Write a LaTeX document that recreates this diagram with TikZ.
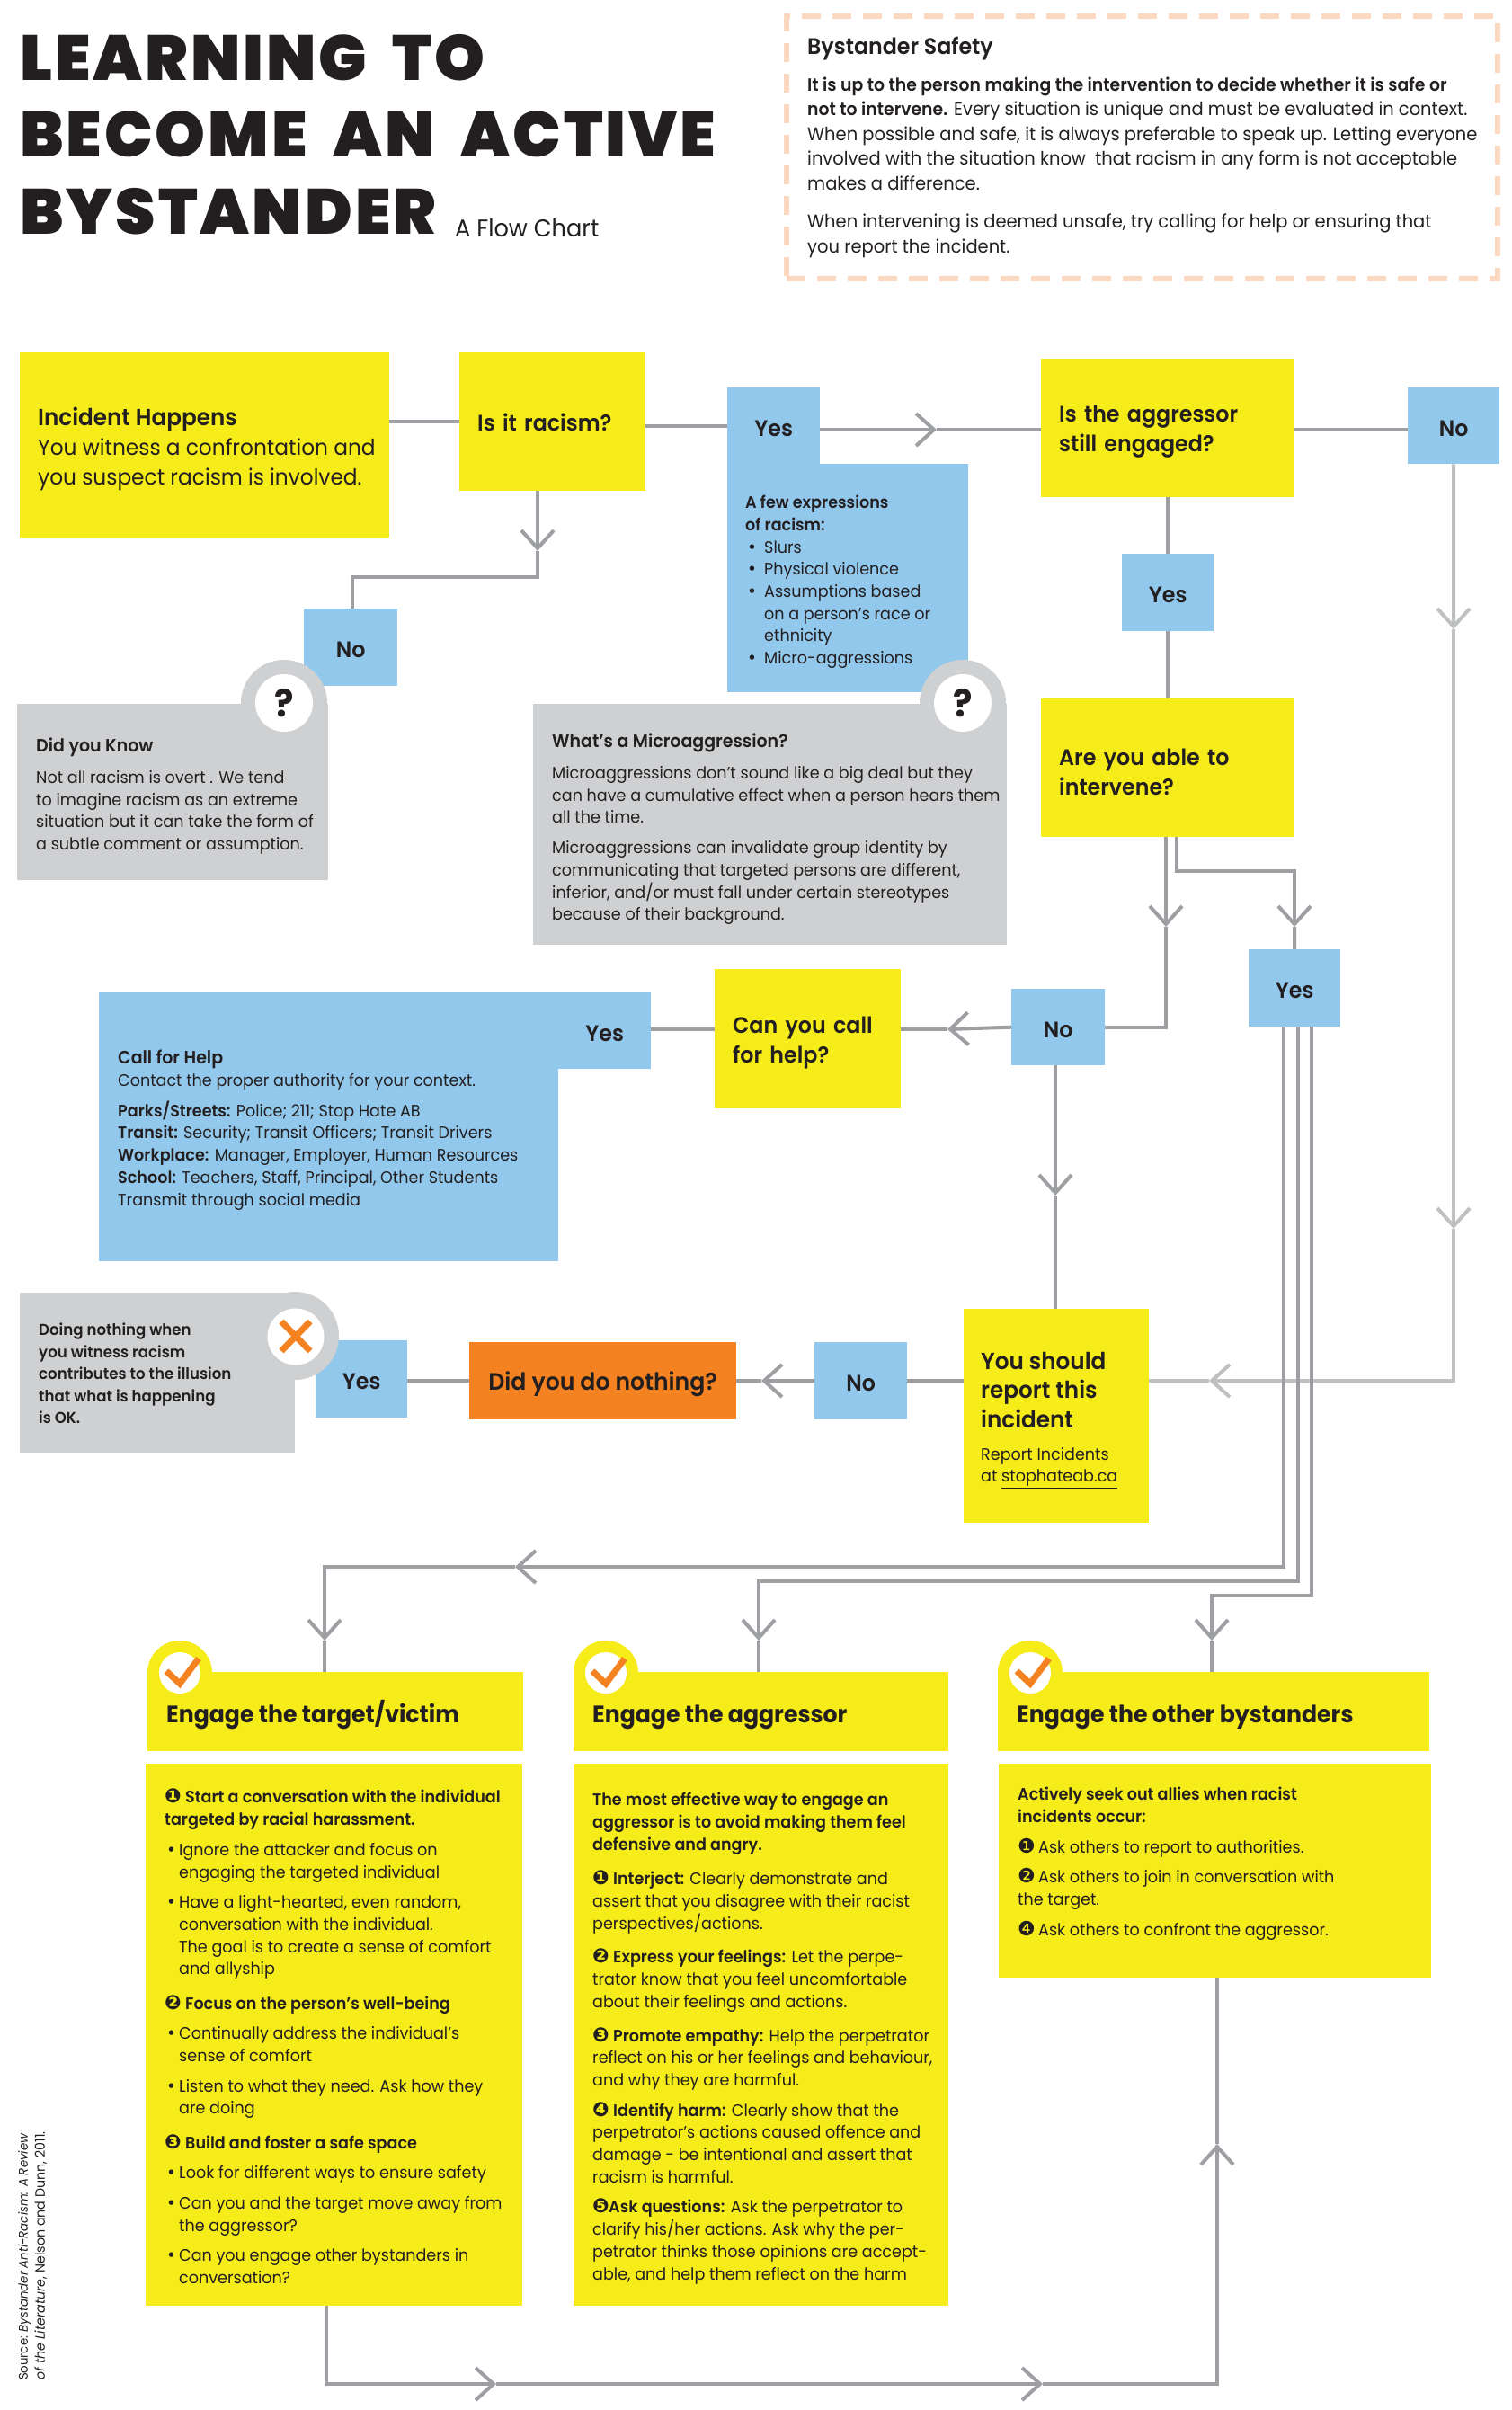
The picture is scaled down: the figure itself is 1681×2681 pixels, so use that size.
\documentclass[tikz,border=0pt]{standalone}
\usepackage{fontspec}
\setmainfont{Poppins}[BoldFont={Poppins SemiBold}, FakeStretch=0.95]
\newfontfamily\titlefont{Poppins Black}[LetterSpace=4.3, WordSpace=1.9]
\newfontfamily\headfont{Poppins Bold}[FakeStretch=0.95]
\newfontfamily\numfont{DejaVu Sans}
\usetikzlibrary{arrows.meta}
\definecolor{flowyellow}{RGB}{246, 236, 26}
\definecolor{flowblue}{RGB}{146, 200, 236}
\definecolor{flowgrey}{RGB}{207, 208, 210}
\definecolor{floworange}{RGB}{245, 130, 32}
\definecolor{flowline}{RGB}{157, 159, 162}
\definecolor{flowlight}{RGB}{190, 192, 194}
\definecolor{flowdash}{RGB}{251, 216, 191}
\definecolor{flowink}{RGB}{35, 31, 32}
\newcommand{\smalltext}{\fontsize{18.5}{24.7}\selectfont}
\newcommand{\asktext}{\fontsize{25}{33}\bfseries\selectfont}
\newcommand{\cnum}[2][23pt]{\makebox[#1][l]{\numfont\fontsize{22}{24.7}\selectfont #2}}
\newcommand{\flowdot}[1][14pt]{\hspace*{2pt}\makebox[#1][l]{\numfont •}}
\newcommand{\safebold}[1]{{\fontsize{19.8}{27.5}\selectfont\textbf{#1}}}
\newcommand{\boxhead}[1]{{\fontsize{20}{24.7}\selectfont\textbf{#1}}}
\tikzset{
    yellowbox/.style={rectangle, fill=flowyellow, text=flowink, anchor=north west, inner sep=0pt},
    bluebox/.style={rectangle, fill=flowblue, text=flowink, anchor=north west, inner sep=0pt},
    greybox/.style={rectangle, fill=flowgrey, text=flowink, anchor=north west, inner sep=0pt},
    askbox/.style={yellowbox, font=\asktext, align=left, execute at begin node={\rule{0pt}{27pt}}},
    answerbox/.style={bluebox, font=\asktext, align=center, execute at begin node={\rule{0pt}{23pt}}},
    textblock/.style={anchor=north west, inner sep=0pt, align=left, text=flowink, font=\smalltext},
    ring/.style={circle, fill=#1, inner sep=0pt, text=flowink},
    wire/.style={draw=flowline, line width=4pt},
    lightwire/.style={draw=flowlight, line width=4pt},
    barb/.style={-{Straight Barb[length=20pt,width=36pt,line width=4pt]}},
    engagetick/.pic={\draw[floworange, line width=7pt] (-15,-2) -- (0,12) -- (21,-16);},
    engagetitle/.style={anchor=base west, inner sep=0pt, text=flowink, font=\headfont\fontsize{26.5}{30}\selectfont},
}
\begin{document}
\begin{tikzpicture}[x=1pt,y=-1pt]
    \useasboundingbox (0,0) rectangle (1681,2681);
    \fill[white] (0,0) rectangle (1681,2681);

    % title
    \node[anchor=north west, inner sep=0pt, align=left, text=flowink, font=\titlefont\fontsize{71}{85.5}\selectfont] (title) at (22,38) {LEARNING TO\\BECOME AN ACTIVE\\BYSTANDER};
    \node[anchor=base west, inner sep=0pt, text=flowink, font=\fontsize{27}{30}\selectfont] (subtitle) at (506,264) {A Flow Chart};

    % safety note
    \node[anchor=north west, inner sep=0pt, minimum width=791pt, minimum height=292pt, draw=flowdash, line width=6pt, dash pattern=on 21pt off 13pt] (safety) at (872,15) {};
    \node[textblock, font=\fontsize{20.5}{27.5}\selectfont] (safetytext) at (898,41) {\fontsize{25}{27.5}\selectfont\textbf{Bystander Safety}\\[13pt]
    \safebold{It is up to the person making the intervention to decide whether it is safe or}\\
    \safebold{not to intervene.} Every situation is unique and must be evaluated in context.\\
    When possible and safe, it is always preferable to speak up. Letting everyone\\
    involved with the situation know\ \ that racism in any form is not acceptable\\
    makes a difference.\\[15pt]
    When intervening is deemed unsafe, try calling for help or ensuring that\\
    you report the incident.};

    % first row
    \node[yellowbox, minimum width=411pt, minimum height=206pt] (incident) at (22,392) {};
    \node[textblock, font=\fontsize{24.5}{33}\selectfont] (incidenttext) at (42,453) {\fontsize{26}{33}\selectfont\textbf{Incident Happens}\\You witness a confrontation and\\you suspect racism is involved.};
    \node[askbox, minimum width=207pt, minimum height=154pt, text width=167pt, text depth=7pt] (racism) at (511,392) {Is it racism?};
    \node[answerbox, minimum width=103pt, minimum height=85pt] (yesracism) at (809,431) {Yes};
    \node[bluebox, minimum width=268pt, minimum height=254pt] (expressions) at (809,516) {};
    \node[textblock] (expressionstext) at (829,551) {\textbf{A few expressions}\\\textbf{of racism:}\\
    \flowdot[19pt]Slurs\\\flowdot[19pt]Physical violence\\
    \flowdot[19pt]Assumptions based\\\hspace*{21pt}on a person’s race or\\\hspace*{21pt}ethnicity\\
    \flowdot[19pt]Micro-aggressions};
    \node[askbox, minimum width=282pt, minimum height=154pt, text width=242pt] (engaged) at (1158,399) {Is the aggressor\\still engaged?};
    \node[answerbox, minimum width=102pt, minimum height=85pt] (noengaged) at (1566,431) {No};
    \node[answerbox, minimum width=102pt, minimum height=86pt] (yesengaged) at (1248,616) {Yes};
    \node[askbox, minimum width=282pt, minimum height=154pt, text width=242pt] (able) at (1158,777) {Are you able to\\intervene?};

    % did you know
    \node[answerbox, minimum width=104pt, minimum height=86pt] (noracism) at (338,677) {No};
    \node[greybox, minimum width=346pt, minimum height=196pt] (know) at (19,783) {};
    \node[ring=flowgrey, minimum size=96pt] (knowring) at (316,782) {};
    \node[ring=white, minimum size=64pt, font=\headfont\fontsize{42}{44}\selectfont] (knowmark) at (knowring) {?};
    \node[textblock] (knowtext) at (40,821) {\boxhead{Did you Know}\\[10pt]Not all racism is overt . We tend\\to imagine racism as an extreme\\situation but it can take the form of\\a subtle comment or assumption.};

    % microaggression
    \node[greybox, minimum width=527pt, minimum height=268pt] (micro) at (593,783) {};
    \node[ring=flowgrey, minimum size=96pt] (microring) at (1071,782) {};
    \node[ring=white, minimum size=64pt, font=\headfont\fontsize{42}{44}\selectfont] (micromark) at (microring) {?};
    \node[textblock] (microtext) at (614,816) {\boxhead{What’s a Microaggression?}\\[10pt]Microaggressions don’t sound like a big deal but they\\can have a cumulative effect when a person hears them\\all the time.\\[9pt]Microaggressions can invalidate group identity by\\communicating that targeted persons are different,\\inferior, and/or must fall under certain stereotypes\\because of their background.};

    % call for help
    \node[bluebox, minimum width=511pt, minimum height=299pt] (call) at (110,1104) {};
    \node[answerbox, minimum width=103pt, minimum height=85pt] (yescall) at (621,1104) {Yes};
    \node[textblock] (calltext) at (131,1168) {\boxhead{Call for Help}\\Contact the proper authority for your context.\\[9pt]\textbf{Parks/Streets:} Police; 211; Stop Hate AB\\\textbf{Transit:} Security; Transit Officers; Transit Drivers\\\textbf{Workplace:} Manager, Employer, Human Resources\\\textbf{School:} Teachers, Staff, Principal, Other Students\\Transmit through social media};
    \node[askbox, minimum width=207pt, minimum height=155pt, text width=167pt] (callhelp) at (795,1078) {Can you call\\for help?};
    \node[answerbox, minimum width=104pt, minimum height=85pt] (nocall) at (1125,1100) {No};
    \node[answerbox, minimum width=102pt, minimum height=86pt] (yesable) at (1389,1056) {Yes};

    % report row
    \node[yellowbox, minimum width=206pt, minimum height=238pt] (report) at (1072,1456) {};
    \node[textblock, font=\fontsize{26}{32.5}\bfseries\selectfont] (reporttext) at (1091,1504) {You should\\report this\\incident};
    \node[textblock] (reportlink) at (1091,1610) {Report Incidents\\at \underline{stophateab.ca}};
    \node[answerbox, minimum width=103pt, minimum height=86pt] (noreport) at (906,1493) {No};
    \node[askbox, fill=floworange, font=\fontsize{26.5}{33}\bfseries\selectfont, align=center, minimum width=297pt, minimum height=86pt] (nothing) at (522,1493) {Did you do nothing?};
    \node[answerbox, minimum width=102pt, minimum height=86pt] (yesnothing) at (351,1491) {Yes};
    \node[greybox, minimum width=306pt, minimum height=178pt] (doing) at (22,1438) {};
    \node[ring=flowgrey, minimum size=98pt] (doingring) at (328,1486) {};
    \node[ring=white, minimum size=63pt] (doingmark) at (329,1487) {};
    \draw[floworange, line width=7pt] (313,1470) -- (345,1503) (345,1470) -- (313,1503);
    \node[textblock, font=\fontsize{17.5}{24.5}\selectfont] (doingtext) at (43,1472) {\textbf{Doing nothing when}\\\textbf{you witness racism}\\\textbf{contributes to the illusion}\\\textbf{that what is happening}\\\textbf{is OK.}};

    % engage headers
    \node[yellowbox, minimum width=418pt, minimum height=88pt] (headtarget) at (164,1860) {};
    \node[yellowbox, minimum width=417pt, minimum height=88pt] (headaggressor) at (638,1860) {};
    \node[yellowbox, minimum width=480pt, minimum height=88pt] (headothers) at (1110,1860) {};
    \node[ring=flowyellow, minimum size=72pt] (ringtarget) at (200,1861) {};
    \node[ring=flowyellow, minimum size=72pt] (ringaggressor) at (674,1861) {};
    \node[ring=flowyellow, minimum size=72pt] (ringothers) at (1146,1861) {};
    \node[ring=white, minimum size=46pt] (marktarget) at (ringtarget) {};
    \node[ring=white, minimum size=46pt] (markaggressor) at (ringaggressor) {};
    \node[ring=white, minimum size=46pt] (markothers) at (ringothers) {};
    \pic at (marktarget) {engagetick};
    \pic at (markaggressor) {engagetick};
    \pic at (markothers) {engagetick};
    \node[engagetitle] (titletarget) at (185,1916) {Engage the target/victim};
    \node[engagetitle] (titleaggressor) at (659,1916) {Engage the aggressor};
    \node[engagetitle] (titleothers) at (1131,1916) {Engage the other bystanders};

    % engage bodies
    \node[yellowbox, minimum width=419pt, minimum height=603pt] (bodytarget) at (162,1962) {};
    \node[yellowbox, minimum width=417pt, minimum height=603pt] (bodyaggressor) at (638,1962) {};
    \node[yellowbox, minimum width=481pt, minimum height=238pt] (bodyothers) at (1111,1962) {};
    \node[textblock] (texttarget) at (183,1990) {\textbf{\cnum{❶}Start a conversation with the individual}\\\textbf{targeted by racial harassment.}\\[9pt]
    \flowdot Ignore the attacker and focus on\\\hspace*{16pt}engaging the targeted individual\\[9pt]
    \flowdot Have a light-hearted, even random,\\\hspace*{16pt}conversation with the individual.\\\hspace*{16pt}The goal is to create a sense of comfort\\\hspace*{16pt}and allyship\\[13.5pt]
    \textbf{\cnum{❷}Focus on the person’s well-being}\\[9pt]
    \flowdot Continually address the individual’s\\\hspace*{16pt}sense of comfort\\[9pt]
    \flowdot Listen to what they need. Ask how they\\\hspace*{16pt}are doing\\[13.5pt]
    \textbf{\cnum{❸}Build and foster a safe space}\\[9pt]
    \flowdot Look for different ways to ensure safety\\[9pt]
    \flowdot Can you and the target move away from\\\hspace*{16pt}the aggressor?\\[9pt]
    \flowdot Can you engage other bystanders in\\\hspace*{16pt}conversation?};
    \node[textblock] (textaggressor) at (659,1994) {\textbf{The most effective way to engage an}\\\textbf{aggressor is to avoid making them feel}\\\textbf{defensive and angry.}\\[14pt]
    \textbf{\cnum{❶}Interject:} Clearly demonstrate and\\assert that you disagree with their racist\\perspectives/actions.\\[13pt]
    \textbf{\cnum{❷}Express your feelings:} Let the perpe-\\trator know that you feel uncomfortable\\about their feelings and actions.\\[13pt]
    \textbf{\cnum{❸}Promote empathy:} Help the perpetrator\\reflect on his or her feelings and behaviour,\\and why they are harmful.\\[9pt]
    \textbf{\cnum{❹}Identify harm:} Clearly show that the\\perpetrator’s actions caused offence and\\damage - be intentional and assert that\\racism is harmful.\\[9pt]
    \textbf{\cnum[18pt]{❺}Ask questions:} Ask the perpetrator to\\clarify his/her actions. Ask why the per-\\petrator thinks those opinions are accept-\\able, and help them reflect on the harm};
    \node[textblock] (textothers) at (1132,1988) {\textbf{Actively seek out allies when racist}\\\textbf{incidents occur:}\\[9pt]
    \cnum{❶}Ask others to report to authorities.\\[9pt]
    \cnum{❷}Ask others to join in conversation with\\the target.\\[9pt]
    \cnum{❹}Ask others to confront the aggressor.};

    % source
    \node[anchor=north west, inner sep=0pt, rotate=90, align=left, text=flowink, font=\fontsize{15}{19}\selectfont] (source) at (20,2648) {{\fontsize{14}{19}\selectfont Source: \textit{Bystander Anti-Racism: A Review}}\\\textit{of the Literature}, Nelson and Dunn, 2011.};

    % connectors, first row
    \draw[wire] (racism.west -| incident.east) -- (racism.west);
    \draw[wire] (yesracism.west -| racism.east) -- (yesracism.west);
    \coordinate (tipengaged) at (1042,478);
    \draw[wire, barb] (yesracism.east |- tipengaged) -- (tipengaged);
    \draw[wire] (tipengaged) -- (engaged.west |- tipengaged);
    \draw[wire] (engaged.east |- tipengaged) -- (noengaged.west |- tipengaged);
    \draw[wire] (engaged.south -| yesengaged.north) -- (yesengaged.north);
    \draw[wire] (yesengaged.south) -- (able.north -| yesengaged.south);
    \coordinate (tipracism) at (598,613);
    \draw[wire, barb] (racism.south -| tipracism) -- (tipracism);
    \draw[wire] (tipracism) |- (392,642) -- (noracism.north -| 392,642);

    % connectors, right side
    \coordinate (tipfara) at (1617,700);
    \coordinate (tipfarb) at (1617,1367);
    \coordinate (tipfarc) at (1345,1536);
    \draw[lightwire, barb] (noengaged.south) -- (tipfara);
    \draw[lightwire, barb] (tipfara) -- (tipfarb);
    \draw[lightwire, barb] (tipfarb) |- (tipfarc);
    \draw[lightwire] (tipfarc) -- (report.east |- tipfarc);

    % connectors, from able
    \coordinate (tipnocall) at (1297,1031);
    \coordinate (tipyesable) at (1440,1031);
    \draw[wire, barb] (able.south -| tipnocall) -- (tipnocall);
    \draw[wire] (tipnocall) |- (nocall.east);
    \draw[wire, barb] (able.south -| 1309,0) |- (1440,969) -- (tipyesable);
    \draw[wire] (tipyesable) -- (yesable.north);
    \coordinate (tipcallhelp) at (1054,1145);
    \draw[wire, barb] (nocall.west) -- (tipcallhelp);
    \draw[wire] (tipcallhelp) -- (callhelp.east |- tipcallhelp);
    \draw[wire] (callhelp.west |- tipcallhelp) -- (yescall.east |- tipcallhelp);
    \coordinate (tipreport) at (1174,1330);
    \draw[wire, barb] (nocall.south -| tipreport) -- (tipreport);
    \draw[wire] (tipreport) -- (report.north -| tipreport);

    % connectors, report row
    \coordinate (tipnothing) at (847,1536);
    \draw[wire] (report.west |- tipnothing) -- (noreport.east |- tipnothing);
    \draw[wire, barb] (noreport.west |- tipnothing) -- (tipnothing);
    \draw[wire] (tipnothing) -- (nothing.east |- tipnothing);
    \draw[wire] (nothing.west |- tipnothing) -- (yesnothing.east |- tipnothing);

    % connectors, to the engage boxes
    \coordinate (tiptargeta) at (573,1743);
    \coordinate (tiptargetb) at (361,1825);
    \coordinate (tipaggressor) at (844,1825);
    \coordinate (tipothers) at (1348,1825);
    \draw[wire, barb] ([xshift=-12pt]yesable.south) |- (tiptargeta);
    \draw[wire, barb] (tiptargeta) -| (tiptargetb);
    \draw[wire] (tiptargetb) -- (headtarget.north -| tiptargetb);
    \draw[wire, barb] ([xshift=4pt]yesable.south) |- (844,1759) -- (tipaggressor);
    \draw[wire] (tipaggressor) -- (headaggressor.north -| tipaggressor);
    \draw[wire, barb] ([xshift=19pt]yesable.south) |- (1348,1775) -- (tipothers);
    \draw[wire] (tipothers) -- (headothers.north -| tipothers);

    % connectors, bottom loop
    \coordinate (tipbottoma) at (552,2652);
    \coordinate (tipbottomb) at (1160,2652);
    \coordinate (tipbottomc) at (1354,2385);
    \draw[wire, barb] (bodytarget.south -| 363,0) |- (tipbottoma);
    \draw[wire, barb] (tipbottoma) -- (tipbottomb);
    \draw[wire, barb] (tipbottomb) -| (tipbottomc);
    \draw[wire] (tipbottomc) -- (bodyothers.south -| tipbottomc);
\end{tikzpicture}
\end{document}
